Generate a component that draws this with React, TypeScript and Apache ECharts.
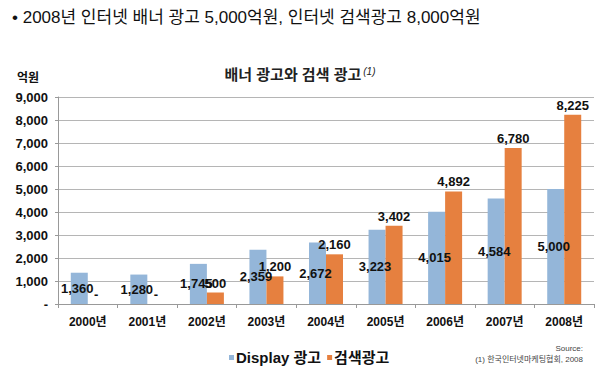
import React, { useEffect, useRef } from "react";
import * as echarts from "echarts";

const categories = ["2000년", "2001년", "2002년", "2003년", "2004년", "2005년", "2006년", "2007년", "2008년"];
const displayAds = [1360, 1280, 1745, 2359, 2672, 3223, 4015, 4584, 5000];
const searchAds = [0, 0, 500, 1200, 2160, 3402, 4892, 6780, 8225];
const seriesNames = ["Display 광고", "검색광고"];
const headline = "• 2008년 인터넷 배너 광고 5,000억원, 인터넷 검색광고 8,000억원";
const chartTitle = "배너 광고와 검색 광고";
const unitLabel = "억원";
const sourceLines = ["Source:", "(1) 한국인터넷마케팅협회, 2008"];

const FONT = "'Liberation Sans', Arial, 'Noto Sans CJK KR', sans-serif";
const fmt = (v: number) => (v === 0 ? "-" : v.toLocaleString("en-US"));

export default function App() {
  const ref = useRef<HTMLDivElement>(null);
  useEffect(() => {
    if (!ref.current) return;
    const chart = echarts.init(ref.current, null, { renderer: "svg" });
    chart.setOption({
      animation: false,
      backgroundColor: "#ffffff",
      textStyle: { fontFamily: FONT },
      title: {
        text: chartTitle + "{sup|(1)}",
        left: "center",
        top: 61,
        textStyle: {
          fontFamily: FONT,
          fontSize: 15,
          fontWeight: "bold",
          color: "#222",
          rich: {
            sup: { fontSize: 10, fontStyle: "italic", fontWeight: "normal", color: "#222", verticalAlign: "top", padding: [0, 0, 7, 2] },
          },
        },
      },
      legend: {
        left: 224,
        top: 345,
        itemWidth: 5,
        itemHeight: 5,
        itemGap: 6,
        icon: "rect",
        textStyle: { fontFamily: FONT, fontSize: 15, fontWeight: "bold", color: "#111", padding: [0, 0, 0, -3] },
        data: seriesNames,
      },
      grid: { left: 58, right: 6, top: 97, bottom: 76 },
      xAxis: {
        type: "category",
        data: categories,
        axisLine: { lineStyle: { color: "#999" } },
        axisTick: { show: true, length: 4, lineStyle: { color: "#999" } },
        axisLabel: { fontFamily: FONT, fontSize: 12, fontWeight: "bold", color: "#111", margin: 12 },
      },
      yAxis: {
        type: "value",
        min: 0,
        max: 9000,
        interval: 1000,
        axisLine: { show: true, lineStyle: { color: "#999" } },
        axisTick: { show: true, length: 3, lineStyle: { color: "#999" } },
        splitLine: { lineStyle: { color: "#b5b5b5" } },
        axisLabel: { fontFamily: FONT, fontSize: 13, fontWeight: "bold", color: "#111", margin: 10, formatter: (v: number) => fmt(v) },
      },
      series: [
        {
          name: seriesNames[0],
          type: "bar",
          data: displayAds,
          barWidth: 17,
          barGap: "0%",
          itemStyle: { color: "#94b6d9" },
          label: {
            show: true,
            position: "inside",
            offset: [-2, 0],
            fontFamily: FONT,
            fontSize: 13,
            fontWeight: "bold",
            color: "#111",
            formatter: (p: any) => fmt(p.value),
          },
        },
        {
          name: seriesNames[1],
          type: "bar",
          data: searchAds,
          barWidth: 17,
          barGap: "0%",
          itemStyle: { color: "#e6803f" },
          label: {
            show: true,
            position: "top",
            distance: 3,
            fontFamily: FONT,
            fontSize: 13,
            fontWeight: "bold",
            color: "#111",
            formatter: (p: any) => fmt(p.value),
          },
        },
      ],
      graphic: [
        {
          type: "text",
          left: 12,
          top: 9,
          style: { text: headline, fontFamily: FONT, fontSize: 17, fill: "#111" },
        },
        {
          type: "text",
          left: 17,
          top: 72,
          style: { text: unitLabel, fontFamily: FONT, fontSize: 12, fontWeight: "bold", fill: "#111" },
        },
        {
          type: "text",
          right: 17,
          top: 344,
          style: { text: sourceLines[0], fontFamily: FONT, fontSize: 8, fill: "#444", align: "right" },
        },
        {
          type: "text",
          right: 17,
          top: 355,
          style: { text: sourceLines[1], fontFamily: FONT, fontSize: 8, fill: "#444", align: "right" },
        },
      ],
    });
    return () => chart.dispose();
  }, []);
  return <div ref={ref} style={{ width: 600, height: 380, position: "absolute", left: 0, top: 0 }} />;
}
